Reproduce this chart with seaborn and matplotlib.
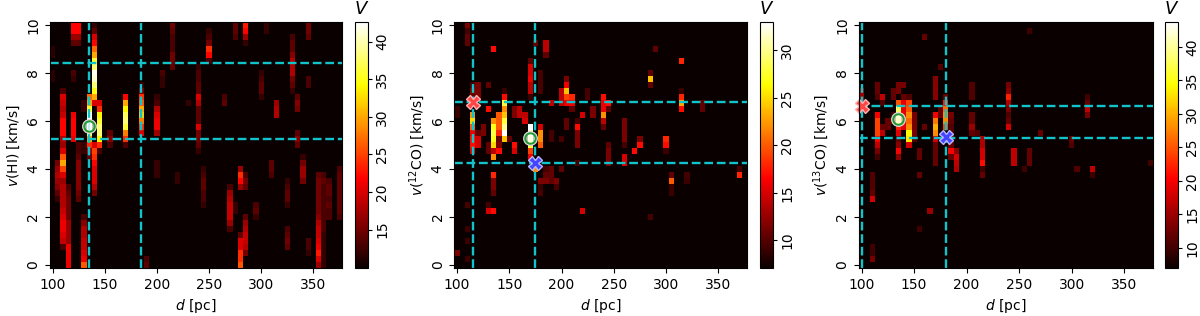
import numpy as np
import pandas as pd
import matplotlib
matplotlib.use("Agg")
import matplotlib.pyplot as plt
import seaborn as sns

# grid of the maps
dist_bins = [100 + 5 * i for i in range(56)]
vel_bins = [0.25 * i for i in range(41)]
dist_ticks = [100, 150, 200, 250, 300, 350]
vel_ticks = [0, 2, 4, 6, 8, 10]

# HI map: column distance, first velocity, values going upward
hi_d = [100, 100, 105, 110, 115, 120, 120, 120, 125, 125, 125, 130, 130, 130,
        135, 140, 140, 145, 155, 170, 185, 190, 200, 200, 205, 215, 220, 230,
        240, 240, 245, 250, 265, 270, 275, 275, 280, 280, 285, 285, 285, 295,
        300, 305, 310, 315, 325, 325, 330, 335, 335, 340, 345, 345, 345, 355,
        360, 365, 375]
hi_v0 = [7.75, 8.75, 2.75, 0.75, 0, 5.25, 7.75, 9.25, 2.75, 4.75, 9.25, 0, 4.75, 6.5,
         4.5, 3.0, 6.75, 4.75, 5.0, 5.0, 5.5, 0, 3.75, 5.5, 7.5, 8.25, 3.5, 6.75,
         4.75, 6.75, 2.5, 8.5, 6.75, 1.5, 2.25, 9.5, 0, 3.25, 0.5, 3.25, 9.25, 2.0,
         7.0, 9.75, 3.75, 6.25, 0.75, 2.5, 7.25, 5.0, 6.5, 3.5, 0.5, 7.5, 9.5, 0,
         0, 2.0, 2.0]
hi_vals = [[11.5, 11.5], [11.5, 11.5], [12, 14, 16, 17, 18, 17, 15],
           [13, 19, 20, 21, 21, 20, 19, 18, 18, 18, 18, 17, 20, 25, 30, 26, 20, 17, 18,
            22, 22, 22, 19, 18, 19, 20, 13],
           [21, 21, 21, 21, 17, 17, 17, 17, 15, 15, 15, 15, 14, 13],
           [21, 22, 22, 22, 21], [12, 13], [14, 17, 22, 22],
           [14, 15, 16, 16, 16, 16, 16, 14], [13, 13], [14, 17, 22, 22],
           [26, 21, 20, 19, 19, 18, 18, 16, 13], [12, 12], [12, 12],
           [14, 17, 24, 30, 38, 42, 42, 42, 36, 30, 27],
           [15, 18, 20, 20, 20, 22, 24, 25, 20],
           [20, 30, 35, 38, 41, 42, 38, 36, 30, 27, 22, 20, 14, 12],
           [13, 24, 34, 38, 38, 36, 34, 24, 20], [13, 16, 14],
           [13, 24, 28, 36, 38, 37, 34, 30, 22],
           [20, 24, 28, 32, 30, 26, 24, 15, 12], [14, 13], [12, 12, 12],
           [17, 21, 21, 20, 18, 13, 12], [12, 12, 13], [14, 15, 15, 13, 13, 13, 14, 15],
           [12, 12], [12],
           [12, 14, 15, 15, 20, 14, 14, 14], [18, 20, 14, 14, 13, 13, 12], [12, 13, 13, 14, 14, 13, 12],
           [13, 22, 24, 15, 13, 12], [14, 13],
           [13, 17, 19, 19, 19, 18, 17, 13], [12, 12], [13, 14, 14],
           [26, 24, 24, 20, 20, 14], [17, 22, 24, 17],
           [15, 18, 19, 19, 18, 17, 14], [14, 15, 13], [12, 17, 22, 23], [12, 14, 13],
           [12, 14, 14, 13, 12], [12, 12], [13, 14, 14], [18, 18, 17],
           [14, 15, 14, 13], [12, 14, 14, 13, 12], [12, 14, 15, 18, 18, 18, 16, 14, 14, 13],
           [14, 16, 14], [15, 16, 14], [15, 17, 17, 15, 12], [12, 13, 13], [13, 13], [14, 15, 15],
           [17, 20, 23, 21, 20, 19, 19, 18, 16, 15, 15, 15, 15, 15, 15, 14],
           [12, 12, 12, 12, 12, 12, 13, 13, 13, 13, 13, 13, 13, 13, 14, 13],
           [13, 13, 14, 13, 14, 14, 13], [13, 14, 14, 14, 14, 14, 14, 14, 13]]

# 12CO map
co12_d = [100, 100, 110, 110, 110, 110, 110, 115, 115, 120, 120, 125, 130, 130, 130,
          130, 135, 135, 135, 135, 140, 140, 145, 150, 155, 155, 160, 165, 170, 170,
          175, 175, 180, 180, 180, 185, 185, 190, 190, 190, 195, 200, 200, 200, 205,
          205, 210, 215, 215, 220, 220, 225, 230, 240, 245, 245, 260, 260, 270, 275,
          285, 285, 290, 300, 305, 315, 315, 320, 335, 370]
co12_v0 = [0.5, 6.25, 0.25, 1.0, 1.5, 2.5, 9.25, 4.75, 6.75, 5.0, 7.0, 5.5, 2.25, 4.75,
           6.5, 7.5, 3.0, 4.5, 9.0, 2.25, 4.75, 5.5, 5.25, 5.25, 4.75, 6.25, 6.25, 6.0,
           4.5, 7.0, 4.0, 9.25, 3.0, 5.0, 7.25, 3.5, 8.75, 3.5, 5.25, 6.75, 3.25, 4.0,
           5.25, 6.75, 5.75, 6.75, 6.5, 4.25, 5.0, 2.25, 6.25, 7.0, 6.25, 5.75, 4.25,
           6.5, 4.25, 5.0, 4.75, 5.0, 2.0, 7.5, 9.0, 4.75, 3.0, 6.5, 8.5, 3.5, 6.5, 3.75]
co12_vals = [[11.5], [9, 9], [9], [9], [9], [9.5], [10.5, 10.5, 9.5, 11.5],
             [15, 17, 17, 16, 20, 25, 22], [18, 10.5, 11.5, 9.5],
             [15, 15, 10.5], [11.5, 11.5, 11.5], [11.5, 11.5],
             [15, 9.5], [10.5, 10.5], [17], [10.5], [10.5, 11.5, 11.5, 18],
             [22, 14, 25, 27, 28, 27, 22], [17], [17],
             [17, 11.5, 10.5, 18, 20, 20, 20], [18, 20, 20, 20],
             [24, 33, 30, 28, 24, 22, 28, 17, 9], [10.5], [15, 17], [11.5, 11.5],
             [14, 14], [15, 14],
             [16, 19, 28, 30, 32, 33], [9, 14, 14, 16, 15, 15, 10.5], [22], [10.5],
             [9.5, 9, 11.5], [20, 22, 22, 15], [9.5, 9.5, 9.5, 9.5], [11.5, 10.5, 9.5], [10.5, 14, 14],
             [10.5, 10.5, 10.5], [9.5, 9.5], [14], [9.5, 11.5], [10.5], [9.5], [14, 14, 14],
             [10.5, 10.5], [16, 19, 24, 16, 11.5], [10.5, 16, 18], [9.5], [11.5, 11.5, 11.5, 17, 9.5],
             [15], [15], [9.5, 9.5], [11.5, 11.5], [10.5, 14, 22, 16, 16, 17], [11.5, 11.5, 11.5, 10.5],
             [10.5, 17], [15, 15], [9.5, 11.5, 11.5, 11.5, 11.5], [17], [17, 11.5],
             [9.5], [10.5, 24, 10.5], [10.5], [9, 17, 18], [9, 9, 20, 10.5],
             [17, 23, 18, 9], [18], [9, 9.5], [10.5, 10.5], [18, 9.5]]

# 13CO map
co13_d = [100, 110, 110, 115, 115, 120, 120, 125, 130, 130, 135, 135, 140, 140, 145,
          150, 155, 155, 155, 160, 160, 165, 170, 170, 175, 175, 180, 185, 190, 205,
          205, 205, 210, 215, 240, 245, 255, 260, 260, 270, 300, 305, 315, 320, 375]
co13_v0 = [6.5, 0.25, 2.75, 4.5, 7.0, 5.5, 6.75, 5.75, 6.0, 7.0, 4.5, 7.25, 5.75, 7.5, 5.0,
           5.25, 1.5, 3.75, 4.5, 5.75, 9.5, 2.25, 4.25, 7.0, 6.25, 8.25, 5.75, 4.5, 4.0, 5.5,
           7.0, 6.0, 5.5, 3.75, 5.75, 4.25, 4.0, 4.25, 9.75, 5.5, 5.0, 4.0, 6.25, 3.75, 4.25]
co13_vals = [[17, 17, 15, 15], [13, 10, 10], [18, 12, 11, 11, 11],
             [10, 13, 17, 20, 24, 24, 24, 20], [11, 12, 12], [17, 12], [11, 17],
             [12, 12], [13, 10], [12, 12],
             [14, 20, 14, 12, 19, 22, 35, 38, 38, 25], [13, 13],
             [19, 19, 19, 19, 19, 12], [13],
             [18, 33, 34, 28, 26, 28, 25, 24, 11], [11, 13, 13, 13, 13],
             [10], [12], [12, 12], [12], [12], [15],
             [12, 12, 12, 12, 18, 28, 30, 27, 20], [14, 14, 14, 14],
             [12, 12], [11], [24, 28, 28, 26, 22, 12], [12, 20, 12, 12, 11, 11, 12, 13],
             [16, 17, 18, 14], [12, 15], [11, 11, 11], [12, 12], [11],
             [12, 10, 21, 18, 18, 16, 16], [18, 12, 11, 13, 16, 22, 14, 13],
             [17, 17, 17], [10], [12, 12, 12], [10], [12], [11, 12], [11],
             [13, 17, 12, 10], [10, 17], [10]]

vel_labels = [r"$v$(HI) [km/s]", r"$v$($^{12}$CO) [km/s]", r"$v$($^{13}$CO) [km/s]"]
color_limits = [(9.9, 42.6), (7.1, 33.0), (7.0, 43.7)]
color_ticks = [[15, 20, 25, 30, 35, 40], [10, 15, 20, 25, 30], [10, 15, 20, 25, 30, 35, 40]]

# dashed guide positions and markers
guide_d = [[135, 185], [115, 175], [100, 180]]
guide_v = [[8.4, 5.25], [6.8, 4.27], [6.63, 5.3]]
ring_pos = [(135, 5.8), (170, 5.3), (135, 6.1)]
red_pos = [None, (115, 6.8), (100, 6.63)]
blue_pos = [None, (175, 4.27), (180, 5.33)]

# pixel boxes (left, right) of the maps and colorbars
axes_px = [(50, 342), (454.5, 747), (859, 1153)]
cbar_px = [(355, 368), (760, 773), (1165, 1178)]
top_px, bottom_px = 22, 268
W, H = 1200, 316


def build_map(d_list, v0_list, vals_list, base):
    grid = pd.DataFrame(base, index=vel_bins, columns=dist_bins, dtype=float)
    for d, v0, vals in zip(d_list, v0_list, vals_list):
        for i, val in enumerate(vals):
            grid.loc[v0 + 0.25 * i, d] = val
    return grid


def x_pos(d):
    return (d - dist_bins[0]) / 5 + 0.5


def y_pos(v):
    return v / 0.25 + 0.5


def box(px):
    return [px[0] / W, 1 - bottom_px / H, (px[1] - px[0]) / W, (bottom_px - top_px) / H]


maps = [(hi_d, hi_v0, hi_vals), (co12_d, co12_v0, co12_vals), (co13_d, co13_v0, co13_vals)]

plt.rcParams["font.size"] = 10
fig = plt.figure(figsize=(W / 100, H / 100), dpi=100)

for i, (d_list, v0_list, vals_list) in enumerate(maps):
    ax = fig.add_axes(box(axes_px[i]))
    cax = fig.add_axes(box(cbar_px[i]))
    vmin, vmax = color_limits[i]
    grid = build_map(d_list, v0_list, vals_list, vmin)

    sns.heatmap(grid, ax=ax, cbar_ax=cax, cmap="hot", vmin=vmin, vmax=vmax,
                xticklabels=False, yticklabels=False, linewidths=0)
    ax.invert_yaxis()
    for spine in ax.spines.values():
        spine.set_visible(True)
        spine.set_linewidth(0.8)

    ax.set_xticks([x_pos(d) for d in dist_ticks])
    ax.set_xticklabels(dist_ticks, rotation=0)
    ax.set_yticks([y_pos(v) for v in vel_ticks])
    ax.set_yticklabels(vel_ticks, rotation=90, va="center")
    ax.tick_params(length=3.5, width=0.8, labelsize=10)
    ax.set_xlabel(r"$d$ [pc]", fontsize=10, labelpad=4)
    ax.set_ylabel(vel_labels[i], fontsize=10, labelpad=3)

    for d in guide_d[i]:
        ax.axvline(x_pos(d), color="#11c4cc", ls="--", lw=1.7)
    for v in guide_v[i]:
        ax.axhline(y_pos(v), color="#11c4cc", ls="--", lw=1.7)

    ax.plot(x_pos(ring_pos[i][0]), y_pos(ring_pos[i][1]), "o", ms=9.5, mfc=(1, 1, 1, 0.75),
            mec="#d8d8d8", mew=1.2, clip_on=False)
    ax.plot(x_pos(ring_pos[i][0]), y_pos(ring_pos[i][1]), "o", ms=7.5, mfc="none",
            mec="#1f9a2f", mew=1.4, clip_on=False)
    if red_pos[i] is not None:
        ax.plot(x_pos(red_pos[i][0]), y_pos(red_pos[i][1]), "X", ms=9.5, mfc="#ff4545",
                mec="#ffb0b0", mew=1, clip_on=False)
    if blue_pos[i] is not None:
        ax.plot(x_pos(blue_pos[i][0]), y_pos(blue_pos[i][1]), "X", ms=9.5, mfc="#4545ff",
                mec="#b8b8ff", mew=1, clip_on=False)

    cbar = ax.collections[0].colorbar
    cbar.outline.set_visible(True)
    cbar.outline.set_linewidth(0.8)
    cbar.set_ticks(color_ticks[i])
    cbar.set_ticklabels(color_ticks[i], rotation=90, va="center")
    cax.tick_params(length=3, width=0.8, labelsize=10, pad=2)
    cax.set_title(r"$V$", fontsize=13, pad=6)

fig.savefig("out.png", dpi=100)
